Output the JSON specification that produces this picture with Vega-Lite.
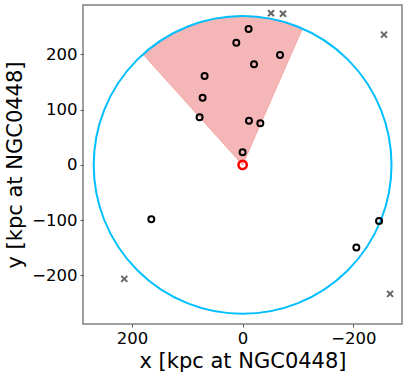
{
  "$schema": "https://vega.github.io/schema/vega-lite/v6.json",
  "autosize": "none",
  "width": 319,
  "height": 319,
  "padding": {"left": 83, "top": 5, "right": 5, "bottom": 52},
  "background": "white",
  "config": {
    "font": "DejaVu Sans",
    "view": {"stroke": "#808080", "strokeWidth": 1.5},
    "axis": {
      "grid": false,
      "domain": false,
      "tickColor": "#555555",
      "tickSize": 3,
      "labelFont": "DejaVu Sans",
      "labelFontSize": 16.5,
      "labelColor": "black",
      "titleFont": "DejaVu Sans",
      "titleFontSize": 21,
      "titleFontWeight": "normal",
      "titleColor": "black"
    }
  },
  "datasets": {
    "center": [{"x": 0, "y": 0}],
    "members": [
      {"x": -10.8, "y": 246.2},
      {"x": 11.4, "y": 221.4},
      {"x": -67.6, "y": 199.1},
      {"x": -20.6, "y": 182.2},
      {"x": 68.7, "y": 161.1},
      {"x": 72.3, "y": 121.8},
      {"x": 77.7, "y": 86.3},
      {"x": -11.5, "y": 80.2},
      {"x": -32.0, "y": 75.4},
      {"x": 0.0, "y": 23.0},
      {"x": 165.0, "y": -98.3},
      {"x": -205.5, "y": -149.7},
      {"x": -246.5, "y": -101.4}
    ],
    "outside": [
      {"x": -51.3, "y": 274.6},
      {"x": -73.0, "y": 273.9},
      {"x": -255.5, "y": 235.9},
      {"x": 213.8, "y": -206.3},
      {"x": -266.4, "y": -233.5}
    ]
  },
  "encoding": {
    "x": {
      "field": "x", "type": "quantitative",
      "scale": {"domain": [288.4, -288.0], "nice": false, "zero": false},
      "axis": {"values": [200, 0, -200], "title": "x [kpc at NGC0448]", "labelPadding": 3, "titlePadding": 4}
    },
    "y": {
      "field": "y", "type": "quantitative",
      "scale": {"domain": [-288.0, 289.6], "nice": false, "zero": false},
      "axis": {"values": [200, 100, 0, -100, -200], "title": "y [kpc at NGC0448]", "labelPadding": 3, "titlePadding": 6}
    }
  },
  "layer": [
    {
      "data": {"name": "center"},
      "mark": {"type": "arc", "radius": 148.9, "theta": -0.733, "theta2": 0.414, "fill": "#f4b6b6", "stroke": "#f08080", "strokeOpacity": 0.5, "strokeWidth": 1}
    },
    {
      "data": {"name": "center"},
      "mark": {"type": "arc", "radius": 148.9, "theta": 0, "theta2": 6.2832, "fill": null, "filled": false, "stroke": "#00bfff", "strokeWidth": 2}
    },
    {
      "data": {"name": "members"},
      "mark": {"type": "point", "shape": "circle", "filled": false, "stroke": "black", "strokeWidth": 2, "size": 36, "opacity": 1}
    },
    {
      "data": {"name": "outside"},
      "mark": {"type": "point", "shape": "M-1,-1L1,1M1,-1L-1,1", "filled": false, "stroke": "#666666", "strokeWidth": 2, "size": 36, "opacity": 1}
    },
    {
      "data": {"name": "center"},
      "mark": {"type": "point", "shape": "circle", "filled": false, "stroke": "red", "strokeWidth": 2.5, "size": 70, "opacity": 1}
    }
  ]
}
